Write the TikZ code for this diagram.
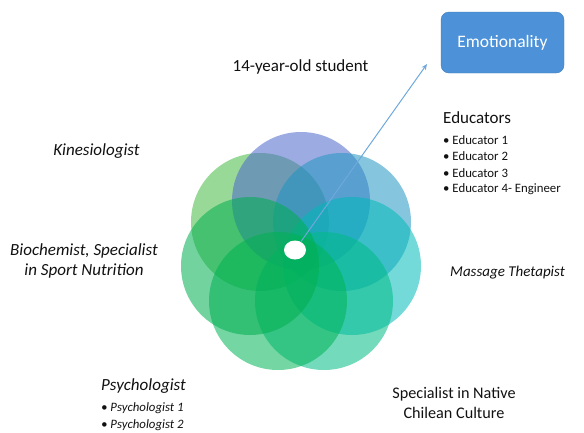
\documentclass[tikz,border=0pt]{standalone}
\usepackage{fontspec}
\setmainfont{Carlito}
\usetikzlibrary{arrows.meta,shapes.geometric}
\definecolor{cTop}{HTML}{4B67CB}
\definecolor{cUR}{HTML}{2195C1}
\definecolor{cR}{HTML}{00BBB9}
\definecolor{cBR}{HTML}{00BB85}
\definecolor{cBL}{HTML}{00B557}
\definecolor{cL}{HTML}{00AE4F}
\definecolor{cUL}{HTML}{45B944}
\definecolor{boxblue}{HTML}{4D92D8}
\definecolor{arrowblue}{HTML}{6FA8DC}
\definecolor{txt}{HTML}{111111}
\tikzset{
  petal/.style={circle, minimum size=138pt, inner sep=0pt, fill opacity=0.55},
  biglabel/.style={font=\fontsize{17}{20}\selectfont, text=txt, inner sep=0pt},
  itlabel/.style={font=\fontsize{17}{20}\selectfont\itshape, text=txt, inner sep=0pt, align=center},
  smalllabel/.style={font=\fontsize{12.8}{16}\selectfont, text=txt, inner sep=0pt, anchor=west},
  smallit/.style={smalllabel, font=\fontsize{12.8}{16}\selectfont\itshape},
  emobox/.style={rounded corners=8pt, fill=boxblue, draw=boxblue!85!black, line width=0.4pt, minimum width=123pt, minimum height=61pt, text=white, font=\fontsize{17.5}{20}\selectfont},
  link/.style={draw=arrowblue, line width=1pt, -{Stealth[length=6pt,width=5pt]}}
}
\begin{document}
\begin{tikzpicture}[x=1pt,y=-1pt]
\useasboundingbox (0,0) rectangle (584,432);
% flower
\node[petal, fill=cUL] (p7) at (260,222) {};
\node[petal, fill=cTop] (p1) at (301,201) {};
\node[petal, fill=cUR] (p2) at (342,222) {};
\node[petal, fill=cR] (p3) at (352,266) {};
\node[petal, fill=cBR] (p4) at (324,301) {};
\node[petal, fill=cBL] (p5) at (278,301) {};
\node[petal, fill=cL] (p6) at (250,266) {};
\node[ellipse, fill=white, minimum width=22pt, minimum height=19pt, inner sep=0pt] (ell) at (295,250) {};
% box
\node[emobox] (emo) at (502.5,42.5) {Emotionality};
\coordinate (tip) at (427,64);
\draw[link] (ell) -- (tip);
% labels
\node[biglabel] (stud) at (300.5,67) {14-year-old student};
\node[biglabel, anchor=west] (edu) at (443,118) {Educators};
\node[smalllabel] (e1) at (443,140) {\textbullet\ Educator 1};
\node[smalllabel] (e2) at (443,156.5) {\textbullet\ Educator 2};
\node[smalllabel] (e3) at (443,173) {\textbullet\ Educator 3};
\node[smalllabel] (e4) at (443,189.5) {\textbullet\ Educator 4- Engineer};
\node[itlabel] (kin) at (96.5,151) {Kinesiologist};
\node[itlabel] (bio) at (84,261) {Biochemist, Specialist\\in Sport Nutrition};
\node[itlabel, anchor=west, font=\fontsize{15}{18}\selectfont\itshape] (mas) at (450,273) {Massage Thetapist};
\node[itlabel, anchor=west] (psy) at (101,386) {Psychologist};
\node[smallit] (ps1) at (101,408.5) {\textbullet\ Psychologist 1};
\node[smallit] (ps2) at (101,425) {\textbullet\ Psychologist 2};
\node[biglabel, align=center, font=\fontsize{16.2}{19.5}\selectfont] (spe) at (454,403) {Specialist in Native\\Chilean Culture};
\end{tikzpicture}
\end{document}
